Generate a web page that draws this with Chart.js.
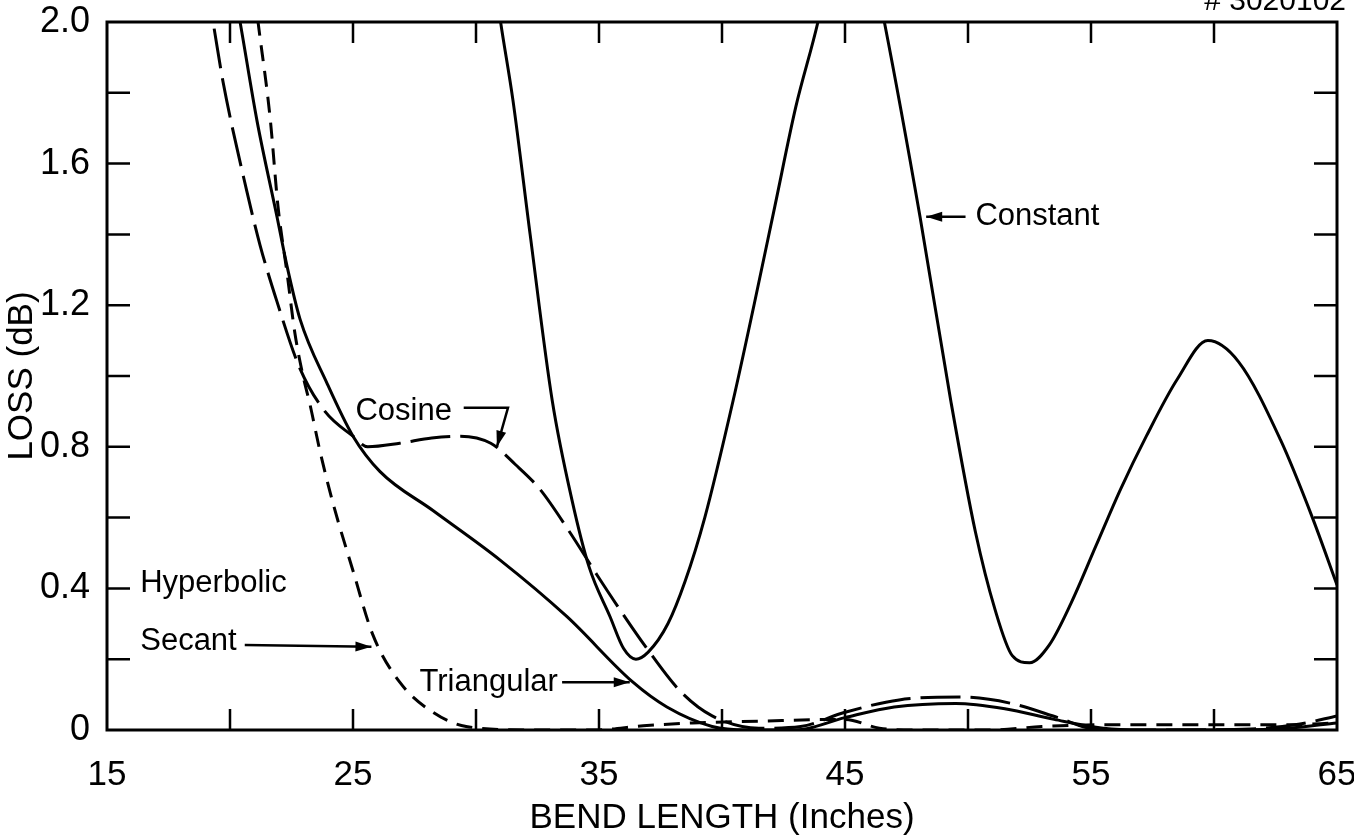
<!DOCTYPE html>
<html>
<head>
<meta charset="utf-8">
<title>Bend loss</title>
<script src="https://cdn.jsdelivr.net/npm/chart.js@4.4.1/dist/chart.umd.min.js"></script>
<style>
  html, body { margin: 0; padding: 0; background: #fff; overflow: hidden; }
  #wrap { width: 1354px; height: 839px; }
</style>
</head>
<body>
<div id="wrap"><canvas id="lossChart" width="1354" height="839"></canvas></div>
<script>
// axis ticks
const bendTickValues = [15, 25, 35, 45, 55, 65];
const bendTickLabels = ["15", "25", "35", "45", "55", "65"];
const lossTickValues = [0, 0.4, 0.8, 1.2, 1.6, 2.0];
const lossTickLabels = ["0", "0.4", "0.8", "1.2", "1.6", "2.0"];

// Constant taper (solid)
const constantX = [30.5, 31.0, 31.5, 32.2, 33.1, 33.9, 34.6, 35.45, 36.0, 36.5, 37.0, 37.8, 38.5, 39.3, 40.45, 41.3, 42.15, 43.0, 43.9, 45.25, 46.6, 48.05, 49.3, 50.3, 51.1, 51.8, 52.5, 53.3, 54.2, 55.2, 56.2, 57.25, 58.5, 59.75, 61.0, 62.7, 64.0, 65.0];
const constantY = [2.25, 2.0, 1.78, 1.40, 0.93, 0.65, 0.46, 0.32, 0.23, 0.20, 0.22, 0.30, 0.42, 0.60, 0.93, 1.20, 1.48, 1.76, 2.0, 2.45, 2.0, 1.45, 0.93, 0.56, 0.34, 0.21, 0.19, 0.24, 0.36, 0.52, 0.68, 0.83, 0.99, 1.10, 1.04, 0.82, 0.60, 0.41];

// Cosine taper (long dash)
const cosineX = [19.0, 19.31, 19.72, 20.69, 21.22, 21.91, 22.85, 23.86, 25.0, 25.6, 26.9, 28.2, 29.35, 30.6, 31.6, 32.6, 33.8, 34.9, 35.85, 36.95, 38.3, 39.6, 41.5, 43.2, 45.0, 47.2, 49.7, 51.7, 53.7, 55.0, 57.4, 61.5, 63.5, 65.0];
const cosineY = [2.12, 2.0, 1.83, 1.52, 1.37, 1.21, 1.02, 0.90, 0.83, 0.80, 0.81, 0.825, 0.83, 0.81, 0.75, 0.68, 0.56, 0.44, 0.34, 0.23, 0.11, 0.04, 0.005, 0.01, 0.05, 0.085, 0.093, 0.076, 0.034, 0.005, 0.0, 0.003, 0.017, 0.04];

// Triangular taper (solid)
const triangularX = [20.1, 20.41, 21.1, 21.91, 22.32, 22.85, 23.94, 25.0, 26.1, 28.25, 30.98, 33.7, 36.38, 37.76, 39.6, 41.0, 43.0, 45.0, 47.0, 49.5, 51.5, 53.5, 55.5, 57.0, 61.0, 63.0, 65.0];
const triangularY = [2.12, 2.0, 1.72, 1.45, 1.31, 1.16, 0.98, 0.83, 0.73, 0.62, 0.48, 0.32, 0.135, 0.065, 0.01, 0.0, 0.0, 0.035, 0.065, 0.075, 0.06, 0.03, 0.005, 0.0, 0.0, 0.005, 0.02];

// Hyperbolic secant taper (short dash)
const secantX = [21.0, 21.14, 21.63, 21.95, 22.32, 22.64, 22.97, 23.25, 23.65, 24.19, 25.0, 25.8, 26.9, 28.25, 29.6, 32.2, 34.8, 36.8, 38.8, 41.5, 45.0, 46.4, 48.0, 51.0, 53.0, 56.0, 60.0, 63.0, 65.0];
const secantY = [2.08, 2.0, 1.73, 1.48, 1.29, 1.12, 1.0, 0.92, 0.79, 0.64, 0.45, 0.27, 0.135, 0.05, 0.01, 0.0, 0.0, 0.012, 0.02, 0.025, 0.03, 0.005, 0.0, 0.0, 0.01, 0.015, 0.015, 0.015, 0.02];

const FONT = "'Liberation Sans Narrow', 'Liberation Sans', 'DejaVu Sans Condensed', sans-serif";

function toPoints(xs, ys) {
  return xs.map((x, i) => ({ x: x, y: ys[i] }));
}

function labelFor(values, labels, v) {
  const i = values.findIndex((t) => Math.abs(t - v) < 1e-6);
  return i >= 0 ? labels[i] : "";
}

// text labels with arrows, placed in data units
const notes = [
  { text: "Constant", x: 50.3, y: 1.45, arrow: [[49.9, 1.45], [48.3, 1.45]] },
  { text: "Cosine", x: 25.1, y: 0.90, arrow: [[29.5, 0.91], [31.3, 0.91], [30.85, 0.80]] },
  { text: "Hyperbolic", x: 16.35, y: 0.415, arrow: null },
  { text: "Secant", x: 16.35, y: 0.25, arrow: [[20.6, 0.24], [25.75, 0.235]] },
  { text: "Triangular", x: 27.7, y: 0.135, arrow: [[33.5, 0.135], [36.25, 0.135]] },
];

const framePlugin = {
  id: "frame",
  afterDraw(chart) {
    const ctx = chart.ctx;
    const a = chart.chartArea;
    const xs = chart.scales.x;
    const ys = chart.scales.y;
    ctx.save();
    ctx.strokeStyle = "#000";
    ctx.lineWidth = 3;
    ctx.strokeRect(a.left, a.top, a.right - a.left, a.bottom - a.top);

    // inward tick marks
    ctx.lineWidth = 2.5;
    xs.ticks.forEach((t) => {
      if (t.value <= xs.min || t.value >= xs.max) return;
      const px = xs.getPixelForValue(t.value);
      ctx.beginPath();
      ctx.moveTo(px, a.bottom);
      ctx.lineTo(px, a.bottom - 21);
      ctx.moveTo(px, a.top);
      ctx.lineTo(px, a.top + 21);
      ctx.stroke();
    });
    ys.ticks.forEach((t) => {
      if (t.value <= ys.min + 1e-6 || t.value >= ys.max - 1e-6) return;
      const py = ys.getPixelForValue(t.value);
      ctx.beginPath();
      ctx.moveTo(a.left, py);
      ctx.lineTo(a.left + 23, py);
      ctx.moveTo(a.right, py);
      ctx.lineTo(a.right - 23, py);
      ctx.stroke();
    });

    // annotations
    ctx.fillStyle = "#000";
    ctx.font = "31px " + FONT;
    ctx.textBaseline = "middle";
    ctx.textAlign = "left";
    notes.forEach((n) => {
      ctx.fillText(n.text, xs.getPixelForValue(n.x), ys.getPixelForValue(n.y));
      if (!n.arrow) return;
      const pts = n.arrow.map((p) => [xs.getPixelForValue(p[0]), ys.getPixelForValue(p[1])]);
      ctx.lineWidth = 2.5;
      ctx.beginPath();
      ctx.moveTo(pts[0][0], pts[0][1]);
      for (let i = 1; i < pts.length; i++) ctx.lineTo(pts[i][0], pts[i][1]);
      ctx.stroke();
      const [x1, y1] = pts[pts.length - 2];
      const [x2, y2] = pts[pts.length - 1];
      const ang = Math.atan2(y2 - y1, x2 - x1);
      ctx.beginPath();
      ctx.moveTo(x2, y2);
      ctx.lineTo(x2 - 16 * Math.cos(ang) + 5 * Math.sin(ang), y2 - 16 * Math.sin(ang) - 5 * Math.cos(ang));
      ctx.lineTo(x2 - 16 * Math.cos(ang) - 5 * Math.sin(ang), y2 - 16 * Math.sin(ang) + 5 * Math.cos(ang));
      ctx.closePath();
      ctx.fill();
    });

    // figure number, cut off by the top edge
    ctx.font = "30px " + FONT;
    ctx.textAlign = "right";
    ctx.textBaseline = "alphabetic";
    ctx.fillText("# 3020102", 1346, 10);
    ctx.restore();
  },
};

const lineStyle = {
  borderColor: "#000",
  borderWidth: 3,
  pointRadius: 0,
  fill: false,
  cubicInterpolationMode: "monotone",
};

new Chart(document.getElementById("lossChart"), {
  type: "line",
  data: {
    datasets: [
      Object.assign({ label: "Constant", data: toPoints(constantX, constantY) }, lineStyle),
      Object.assign({ label: "Cosine", data: toPoints(cosineX, cosineY), borderDash: [40, 10] }, lineStyle),
      Object.assign({ label: "Triangular", data: toPoints(triangularX, triangularY) }, lineStyle),
      Object.assign({ label: "Hyperbolic Secant", data: toPoints(secantX, secantY), borderDash: [16, 10] }, lineStyle),
    ],
  },
  options: {
    responsive: false,
    animation: false,
    layout: { padding: { top: 22, right: 17, left: 0, bottom: 0 } },
    plugins: { legend: { display: false }, tooltip: { enabled: false } },
    scales: {
      x: {
        type: "linear",
        min: 15,
        max: 65,
        grid: { display: false },
        border: { display: false },
        ticks: {
          stepSize: 5,
          autoSkip: false,
          maxRotation: 0,
          padding: 16,
          color: "#000",
          font: { family: FONT, size: 35 },
          callback: (v) => labelFor(bendTickValues, bendTickLabels, v),
        },
        title: {
          display: true,
          text: "BEND LENGTH (Inches)",
          color: "#000",
          font: { family: FONT, size: 35 },
          padding: { top: 0, bottom: 0 },
        },
        afterFit(scale) {
          scale.height = 109;
          scale.paddingLeft = 0;
          scale.paddingRight = 0;
        },
      },
      y: {
        min: 0,
        max: 2.0,
        grid: { display: false },
        border: { display: false },
        ticks: {
          stepSize: 0.2,
          autoSkip: false,
          padding: 9,
          color: "#000",
          font: { family: FONT, size: 36 },
          callback: (v) => labelFor(lossTickValues, lossTickLabels, v),
        },
        title: {
          display: true,
          text: "LOSS (dB)",
          color: "#000",
          font: { family: FONT, size: 35 },
          padding: { top: 1, bottom: 0 },
        },
        afterFit(scale) {
          scale.width = 107;
          scale.paddingTop = 0;
          scale.paddingBottom = 0;
        },
      },
    },
  },
  plugins: [framePlugin],
});
</script>
</body>
</html>
